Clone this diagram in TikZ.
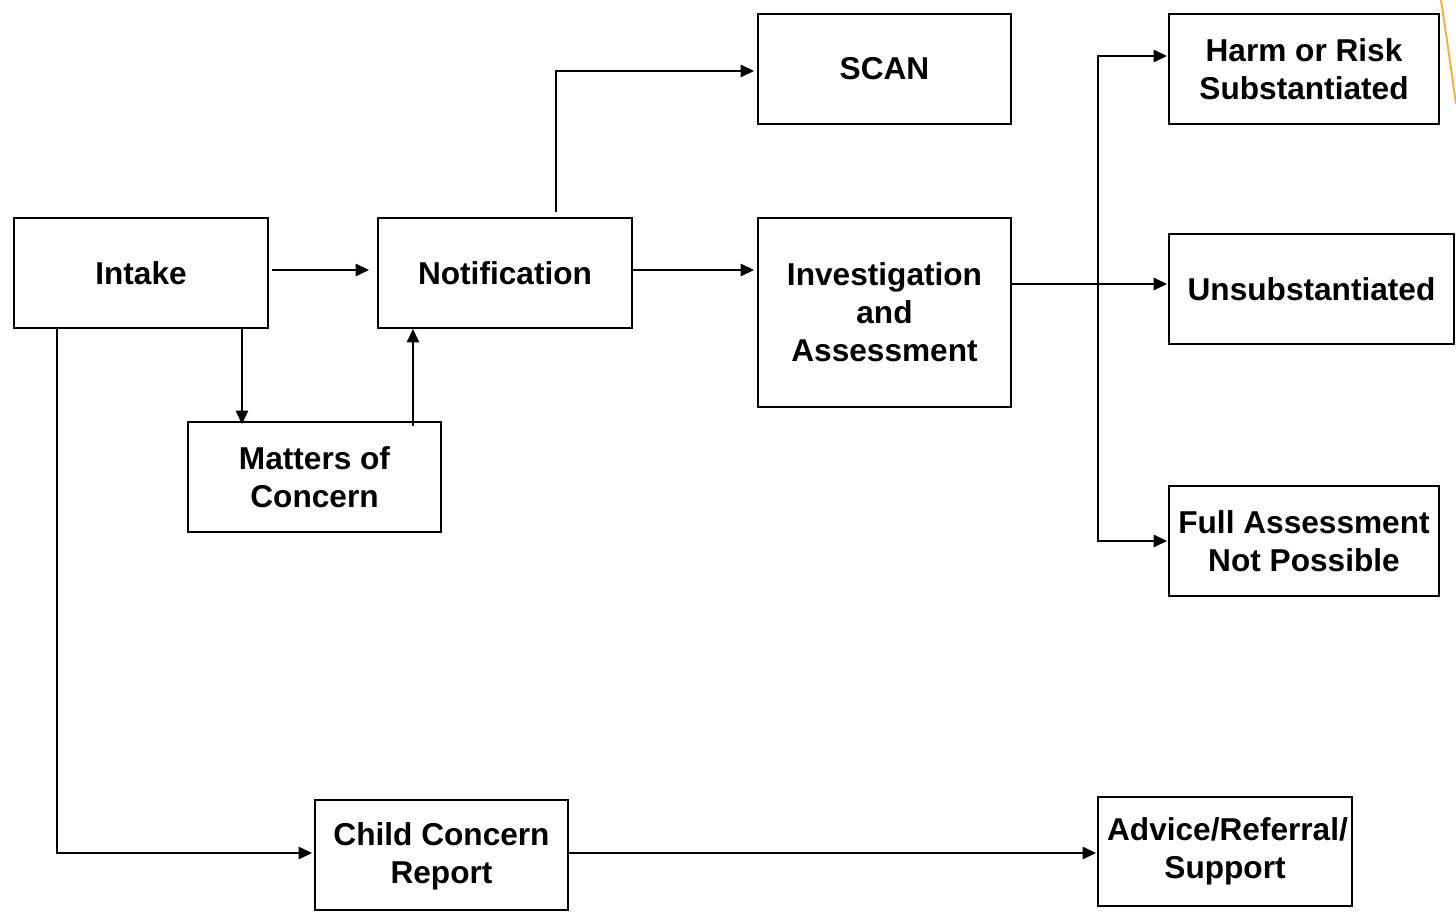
\documentclass[tikz,border=0pt]{standalone}
\usepackage{fontspec}
\setmainfont{Liberation Sans}
\usetikzlibrary{arrows.meta}
\usetikzlibrary{positioning}
\usetikzlibrary{calc}

\tikzset{
	flowbox/.style={draw, line width={0.04cm}, align=center, inner sep=0pt,
		minimum width={5.08cm}, minimum height={2.2cm},
		font=\bfseries\fontsize{18}{21.6}\selectfont},
	flowarr/.style={-{Triangle[length=0.27cm, width=0.25cm]}, line width={0.03cm}}
}

\begin{document}
\begin{tikzpicture}[x={0.02cm}, y={-0.02cm}]
				\useasboundingbox (0, 0) rectangle (1456, 915);
				
				\node[flowbox] (intake) at (141, 273) {Intake};
				\node[flowbox] (notif) at (505, 273) {Notification};
				\node[flowbox, minimum width={5.06cm}] (scan) at (884.5, 69) {SCAN};
				\node[flowbox, minimum width={5.06cm}, minimum height={3.78cm}] (invest) at (884.5, 312.5) 
					{Investigation\\and\\Assessment};
				\node[flowbox, minimum width={5.06cm}] (matters) at (314.5, 477) {Matters of\\Concern};
				\node[flowbox, minimum width={5.4cm}] (harm) at (1304, 69) {Harm or Risk\\Substantiated};
				\node[flowbox, minimum width={5.7cm}] (unsub) at (1311.5, 289) {Unsubstantiated};
				\node[flowbox, minimum width={5.4cm}] (full) at (1304, 541) {Full Assessment\\Not Possible};
				\node[flowbox, minimum width={5.06cm}, text depth={0.06cm}] (child) at (441.5, 855) 
					{Child Concern\\Report};
				\node[flowbox, minimum height={2.18cm}] (advice) at (1225, 851.5) {\hspace*{0.1cm}Advice/Referral/\\Support};
				
				\coordinate (split) at (1098, 284);
				
				\draw[flowarr, shorten <={0.06cm}, shorten >={0.16cm}] ([yshift={0.06cm}]intake.east) 
					-- ([yshift={0.06cm}]notif.west);
				\draw[flowarr, shorten <={0.1cm}, shorten >={0.06cm}] ([xshift={1.02cm}]notif.north) 
					|- ([yshift={-0.04cm}]scan.west);
				\draw[flowarr, shorten >={0.06cm}] ([yshift={0.06cm}]notif.east) 
					-- ([yshift={0.06cm}]notif.east -| invest.west);
				\draw[flowarr, shorten >={-0.06cm}] ([xshift={2.02cm}]intake.south) 
					-- ([xshift={2.02cm}]intake.south |- matters.north);
				\draw[flowarr, shorten <={-0.1cm}] ([xshift={1.97cm}]matters.north) 
					-- ([xshift={1.97cm}]matters.north |- notif.south);
				\draw[flowarr, shorten >={0.04cm}] ([xshift={-1.68cm}]intake.south) 
					|- ([yshift={0.04cm}]child.west);
				\draw[flowarr, shorten >={0.02cm}] ([yshift={0.04cm}]child.east) 
					-- ([yshift={0.04cm}]child.east -| advice.west);
				
				\draw[line width={0.03cm}] (invest.east |- split) -- (split);
				\draw[flowarr, shorten >={0.02cm}] (split) -- (split -| unsub.west);
				\draw[flowarr, shorten >={0.02cm}] (split) |- ([yshift={0.26cm}]harm.west);
				\draw[flowarr, shorten >={0.02cm}] (split) |- (full.west);
				
				\draw[line width={0.04cm}, color={rgb,255:red,236;green,178;blue,72}] (1441, 0) 
					.. controls (1447, 40) .. (1456, 104);
				
			\end{tikzpicture}
\end{document}
